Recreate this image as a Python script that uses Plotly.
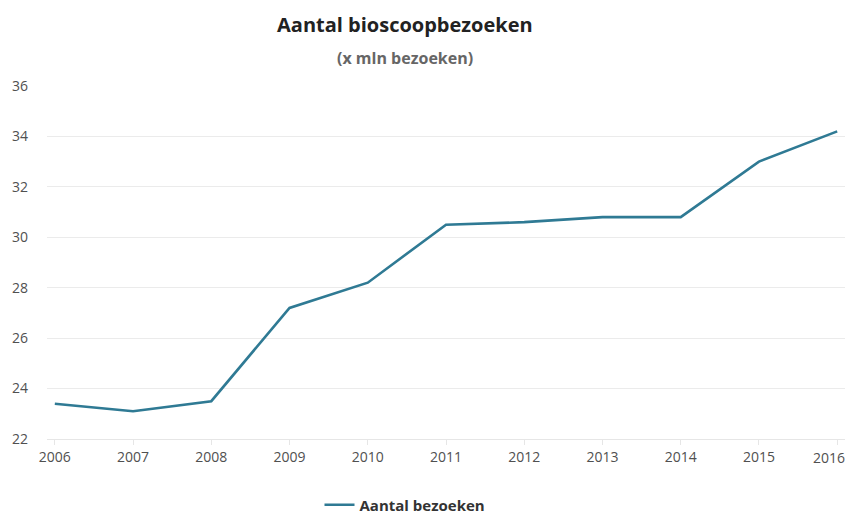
import plotly.graph_objects as go

years = [2006, 2007, 2008, 2009, 2010, 2011, 2012, 2013, 2014, 2015, 2016]
bezoeken = [23.4, 23.1, 23.5, 27.2, 28.2, 30.5, 30.6, 30.8, 30.8, 33.0, 34.2]
y_ticks = [22, 24, 26, 28, 30, 32, 34, 36]

W, H = 847, 516
L, R, T, B = 47, 2, 86, 77
PW, PH = W - L - R, H - T - B

def px(x):
    return (x - L) / PW

def py(y):
    return (H - B - y) / PH

# last tick label is drawn separately, nudged left (as in the reference) to stay on the page
x_labels = [str(y) for y in years]
last_label = x_labels[-1]
x_labels[-1] = ""

tick_font = dict(size=14, color="#505050", family="Open Sans, Noto Sans, sans-serif")

fig = go.Figure()
fig.add_trace(go.Scatter(
    x=years, y=bezoeken, mode="lines", name="Aantal bezoeken",
    line=dict(color="#2f7a94", width=2.6),
))

font_fam = "Open Sans, Noto Sans, sans-serif"
fig.update_layout(
    width=W, height=H,
    margin=dict(l=L, r=R, t=T, b=B, autoexpand=False),
    paper_bgcolor="white", plot_bgcolor="white",
    font=dict(family=font_fam, size=13, color="#555555"),
    showlegend=True,
    legend=dict(orientation="h", x=px(405), xanchor="center", y=py(505), yanchor="middle",
                font=dict(size=15, color="#333333", family=font_fam, weight="bold"),
                itemwidth=30),
    xaxis=dict(range=[2005.9, 2016.1], tickmode="array", tickvals=years,
               ticktext=x_labels, showgrid=False, zeroline=False,
               showline=True, linecolor="#e6e6e6", linewidth=1,
               ticks="outside", ticklen=5, tickcolor="#e6e6e6",
               ticklabeloverflow="allow", automargin=False,
               tickfont=tick_font),
    yaxis=dict(range=[22, 36], tickmode="array", tickvals=y_ticks,
               showgrid=True, gridcolor="#ebebeb", gridwidth=1, zeroline=False,
               showline=False, ticks="", ticklabelstandoff=18, automargin=False,
               tickfont=tick_font),
    annotations=[
        dict(text="<b>Aantal bioscoopbezoeken</b>", x=px(405), y=py(24),
             xref="paper", yref="paper", yanchor="middle", xanchor="center", showarrow=False,
             font=dict(size=20, color="#222222", family=font_fam)),
        dict(text="<b>(x mln bezoeken)</b>", x=px(405), y=py(58),
             xref="paper", yref="paper", yanchor="middle", xanchor="center", showarrow=False,
             font=dict(size=16, color="#666666", family=font_fam)),
        dict(text=last_label, x=years[-1], xref="x", y=py(457), yref="paper",
             xanchor="center", yanchor="middle", xshift=-8, showarrow=False,
             font=tick_font),
    ],
)

fig.write_html("out.html")
